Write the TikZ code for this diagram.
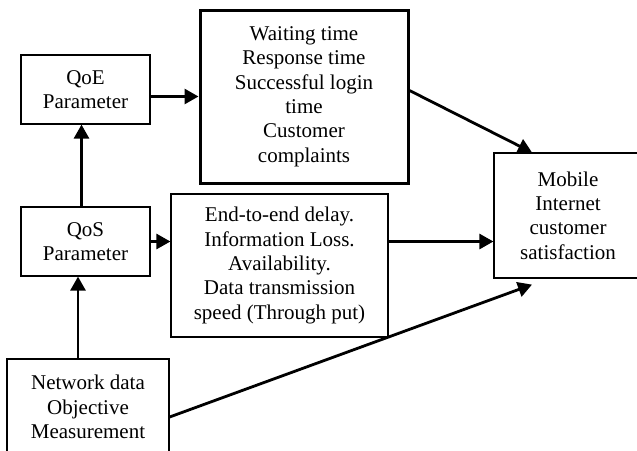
\documentclass[tikz,border=0pt]{standalone}
\usepackage{fontspec}
\setmainfont{Liberation Serif}
\usetikzlibrary{arrows.meta}
\begin{document}
\begin{tikzpicture}[x=0.5pt,y=-0.5pt,
		box/.style={draw,line width=0.6pt,align=center,inner sep=0pt,font=\fontsize{10.5}{12.2}\selectfont},
		flow/.style={line width=1.4pt,-{Triangle[length=7pt,width=7.5pt]}}]
		\clip (0,0) rectangle (637,450);
		\node at (85.5,89.5) [box,minimum width=64.5pt,minimum height=34.5pt] (qoe) {QoE\\Parameter};
		\node at (85.5,241.5) [box,minimum width=64.5pt,minimum height=34.5pt] (qos) {QoS\\Parameter};
		\node at (88,407) [box,minimum width=81pt,minimum height=48pt] (net) {Network data\\Objective\\Measurement};
		\node at (304,96.5) [box,line width=1.5pt,minimum width=104pt,minimum height=86.5pt] (qoeitems) {Waiting time\\Response time\\Successful login\\time\\Customer\\complaints};
		\node at (279.5,265.5) [box,minimum width=108.5pt,minimum height=71.5pt] (qositems) {End-to-end delay.\\Information Loss.\\Availability.\\Data transmission\\speed (Through put)};
		\node at (568,215.5) [box,minimum width=74pt,minimum height=62.5pt] (sat) {Mobile\\Internet\\customer\\satisfaction};
		\coordinate (qosin) at ([xshift=-3.75pt]qos.south);
		% arrows
		\draw[flow] (qoe.east |- qoeitems.west) -- (qoeitems.west);
		\draw[flow] ([xshift=-2pt]qos.north) -- ([xshift=-2pt]qoe.south);
		\draw[flow] (qos.east) -- (qos.east -| qositems.west);
		\draw[flow] (net.north -| qosin) -- (qosin);
		\draw[flow] ([yshift=3pt]qoeitems.east) -- ([xshift=-18pt]sat.north);
		\draw[flow] (qositems.east |- qos.east) -- (sat.west |- qos.east);
		\draw[flow] ([yshift=-5pt]net.east) -- ([xshift=-18pt,yshift=-3pt]sat.south);
	\end{tikzpicture}
\end{document}
